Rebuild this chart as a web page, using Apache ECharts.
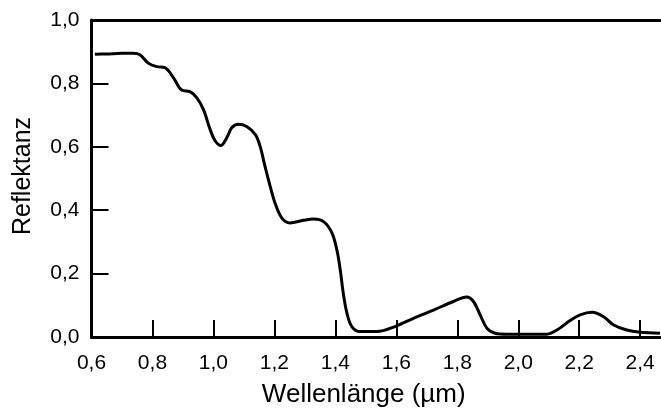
<!DOCTYPE html>
<html>
<head>
<meta charset="utf-8">
<script src="https://cdn.jsdelivr.net/npm/echarts@6/dist/echarts.min.js"></script>
<style>
html,body{margin:0;padding:0;background:#fff;}
#chart{width:661px;height:408px;}
</style>
</head>
<body>
<div id="chart"></div>
<script>
const wavelength = [0.611,0.65,0.70,0.737,0.759,0.786,0.814,0.841,0.868,0.896,0.923,0.945,0.967,0.989,1.005,1.024,1.044,1.060,1.082,1.109,1.137,1.153,1.169,1.186,1.202,1.224,1.251,1.295,1.328,1.361,1.388,1.405,1.416,1.426,1.438,1.454,1.481,1.536,1.596,1.656,1.722,1.787,1.831,1.853,1.875,1.897,1.924,1.963,2.094,2.127,2.170,2.203,2.242,2.280,2.313,2.356,2.400,2.465];
const reflectance = [0.892,0.893,0.895,0.895,0.890,0.864,0.853,0.850,0.819,0.779,0.774,0.755,0.718,0.655,0.620,0.604,0.629,0.660,0.671,0.664,0.639,0.602,0.539,0.476,0.423,0.376,0.360,0.368,0.372,0.364,0.330,0.275,0.212,0.138,0.075,0.033,0.017,0.017,0.033,0.059,0.085,0.112,0.126,0.112,0.070,0.028,0.012,0.009,0.009,0.022,0.052,0.070,0.078,0.064,0.038,0.022,0.015,0.012];
const xTicks = [0.6,0.8,1.0,1.2,1.4,1.6,1.8,2.0,2.2,2.4];
const yTicks = [0,0.2,0.4,0.6,0.8,1.0];
const xName = 'Wellenlänge (µm)';
const yName = 'Reflektanz';

const fmt = v => Number(v).toFixed(1).replace('.', ',');
const font = '"Liberation Sans", Arial, sans-serif';
const chart = echarts.init(document.getElementById('chart'), null, {renderer:'canvas'});
chart.setOption({
  animation: false,
  backgroundColor: '#fff',
  grid: {left: 91.5, right: 1, top: 20, bottom: 71, containLabel: false, outerBoundsMode: 'none'},
  xAxis: [{
    type: 'value', min: 0.6, max: 2.465, position: 'bottom',
    name: xName, nameLocation: 'middle', nameGap: 45,
    nameTextStyle: {fontFamily: font, fontSize: 26, color: '#000', padding: [0, 24, 0, 0]},
    axisLine: {show: true, onZero: false, lineStyle: {color: '#000', width: 3}},
    axisTick: {show: true, inside: true, length: 17, lineStyle: {color: '#000', width: 2}, customValues: xTicks},
    axisLabel: {fontFamily: font, fontSize: 21, color: '#000', margin: 16, formatter: fmt, customValues: xTicks},
    splitLine: {show: false}
  }, {
    type: 'value', min: 0.6, max: 2.465, position: 'top',
    axisLine: {show: true, onZero: false, lineStyle: {color: '#000', width: 3}},
    axisTick: {show: false}, axisLabel: {show: false}, splitLine: {show: false}
  }],
  yAxis: {
    type: 'value', min: 0, max: 1,
    name: yName, nameLocation: 'middle', nameGap: 56, nameRotate: 90,
    nameTextStyle: {fontFamily: font, fontSize: 25, color: '#000', padding: [0, 0, 0, 5]},
    axisLine: {show: true, onZero: false, lineStyle: {color: '#000', width: 3}},
    axisTick: {show: true, inside: true, length: 17, lineStyle: {color: '#000', width: 2}, customValues: yTicks},
    axisLabel: {fontFamily: font, fontSize: 21, color: '#000', margin: 12, formatter: fmt, customValues: yTicks},
    splitLine: {show: false}
  },
  series: [{
    type: 'line',
    xAxisIndex: 0,
    data: wavelength.map((w, i) => [w, reflectance[i]]),
    showSymbol: false,
    smooth: 0.35,
    lineStyle: {color: '#000', width: 3},
    clip: true
  }]
});
</script>
</body>
</html>
